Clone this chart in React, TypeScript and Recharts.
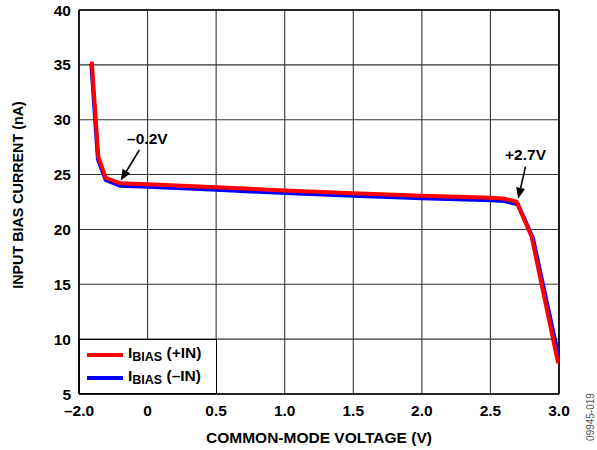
import { CartesianGrid, Legend, Line, LineChart, ReferenceLine, XAxis, YAxis } from 'recharts'

const FONT = '"Liberation Sans", Arial, sans-serif'

// x ticks: the sheet labels the left edge "–2.0"
const xTicks = [-0.5, 0, 0.5, 1, 1.5, 2, 2.5, 3]
const xTickLabels = ['–2.0', '0', '0.5', '1.0', '1.5', '2.0', '2.5', '3.0']
const yTicks = [5, 10, 15, 20, 25, 30, 35, 40]

// I_BIAS (+IN)
const plusX = [-0.407, -0.359, -0.305, -0.2, 0, 0.5, 1.0, 1.5, 2.0, 2.5, 2.59, 2.69, 2.8, 2.994]
const plusY = [35.3, 26.6, 24.7, 24.2, 24.12, 23.85, 23.55, 23.3, 23.07, 22.88, 22.83, 22.52, 19.35, 7.8]

// I_BIAS (–IN)
const minusX = [-0.41, -0.362, -0.305, -0.2, 0, 0.5, 1.0, 1.5, 2.0, 2.5, 2.6, 2.7, 2.81, 3.0]
const minusY = [35.1, 26.4, 24.5, 23.97, 23.9, 23.62, 23.32, 23.07, 22.84, 22.65, 22.58, 22.3, 19.2, 8.25]

const plusData = plusX.map((x, i) => ({ x, y: plusY[i] }))
const minusData = minusX.map((x, i) => ({ x, y: minusY[i] }))

const tickStyle = { fontFamily: FONT, fontSize: 15.5, fontWeight: 700, fill: '#000' }

function arrowShape(label: string, dx: number, dy: number) {
  return (props: any) => {
    const { x1, y1, x2, y2 } = props
    const ang = Math.atan2(y2 - y1, x2 - x1)
    const len = 11
    const half = 4.5
    const bx = x2 - len * Math.cos(ang)
    const by = y2 - len * Math.sin(ang)
    const px = -Math.sin(ang) * half
    const py = Math.cos(ang) * half
    return (
      <g>
        <line x1={x1} y1={y1} x2={bx} y2={by} stroke="#000" strokeWidth={1.6} />
        <polygon points={`${x2},${y2} ${bx + px},${by + py} ${bx - px},${by - py}`} fill="#000" />
        <text
          x={x1 + dx}
          y={y1 + dy}
          textAnchor="middle"
          fontFamily={FONT}
          fontSize={15.5}
          fontWeight={700}
          fill="#000"
        >
          {label}
        </text>
      </g>
    )
  }
}

function LegendBox() {
  const rows = [
    { color: '#ff0000', suffix: ' (+IN)', top: 15 },
    { color: '#0000ff', suffix: ' (–IN)', top: 38 },
  ]
  return (
    <div
      style={{
        position: 'relative',
        width: 138,
        height: 55,
        boxSizing: 'border-box',
        border: '1px solid #000',
        background: '#fff',
        fontFamily: FONT,
        fontWeight: 700,
        fontSize: 15.5,
      }}
    >
      {rows.map((r) => (
        <div key={r.suffix}>
          <div
            style={{
              position: 'absolute',
              left: 7,
              top: r.top - 2,
              width: 36,
              height: 4,
              background: r.color,
            }}
          />
          <div
            style={{
              position: 'absolute',
              left: 48,
              top: r.top - 11,
              lineHeight: '17px',
              whiteSpace: 'nowrap',
            }}
          >
            I
            <span style={{ fontSize: 12.5, position: 'relative', top: 3 }}>BIAS</span>
            {r.suffix}
          </div>
        </div>
      ))}
    </div>
  )
}

export default function App() {
  return (
    <div style={{ position: 'absolute', left: 0, top: 0, width: 597, height: 450, background: '#fff' }}>
      <LineChart
        width={597}
        height={450}
        margin={{ top: 10, right: 38, left: 0, bottom: 26 }}
      >
        <CartesianGrid stroke="#333" strokeWidth={1.1} />
        <XAxis
          type="number"
          dataKey="x"
          domain={[-0.5, 3]}
          ticks={xTicks}
          allowDataOverflow
          height={30}
          tickLine={false}
          tickMargin={5}
          axisLine={{ stroke: '#000', strokeWidth: 1.6 }}
          tick={tickStyle}
          tickFormatter={(v: number) => xTickLabels[xTicks.indexOf(v)] ?? String(v)}
          label={{
            content: () => (
              <text
                x={319}
                y={443}
                textAnchor="middle"
                fontFamily={FONT}
                fontSize={15.5}
                fontWeight={700}
                fill="#000"
              >
                COMMON-MODE VOLTAGE (V)
              </text>
            ),
          }}
        />
        <YAxis
          type="number"
          dataKey="y"
          domain={[5, 40]}
          ticks={yTicks}
          allowDataOverflow
          width={79}
          tickLine={false}
          axisLine={{ stroke: '#000', strokeWidth: 1.6 }}
          tick={tickStyle}
          label={{
            content: () => (
              <g>
                <text
                  x={0}
                  y={0}
                  transform="translate(23,195) rotate(-90)"
                  textAnchor="middle"
                  fontFamily={FONT}
                  fontSize={14.3}
                  fontWeight={700}
                  fill="#000"
                >
                  INPUT BIAS CURRENT (nA)
                </text>
                <text
                  x={0}
                  y={0}
                  transform="translate(594,417) rotate(-90)"
                  textAnchor="middle"
                  fontFamily={FONT}
                  fontSize={10}
                  fill="#555"
                >
                  09945-019
                </text>
              </g>
            ),
          }}
        />
        <ReferenceLine y={40} stroke="#000" strokeWidth={1.6} />
        <ReferenceLine x={3} stroke="#000" strokeWidth={1.6} />
        <Legend
          layout="horizontal"
          verticalAlign="middle"
          align="center"
          wrapperStyle={{ position: 'absolute', left: 79, top: 339, width: 138, height: 55 }}
          content={() => <LegendBox />}
        />
        <Line
          data={minusData}
          dataKey="y"
          name="IBIAS (–IN)"
          stroke="#0000ff"
          strokeWidth={4}
          dot={false}
          type="linear"
          isAnimationActive={false}
        />
        <Line
          data={plusData}
          dataKey="y"
          name="IBIAS (+IN)"
          stroke="#ff0000"
          strokeWidth={4}
          dot={false}
          type="linear"
          isAnimationActive={false}
        />
        <ReferenceLine
          segment={[
            { x: -0.06, y: 27.24 },
            { x: -0.196, y: 24.45 },
          ]}
          ifOverflow="visible"
          shape={arrowShape('–0.2V', 8, -6)}
        />
        <ReferenceLine
          segment={[
            { x: 2.756, y: 25.72 },
            { x: 2.702, y: 22.8 },
          ]}
          ifOverflow="visible"
          shape={arrowShape('+2.7V', 0, -7)}
        />
      </LineChart>
    </div>
  )
}
